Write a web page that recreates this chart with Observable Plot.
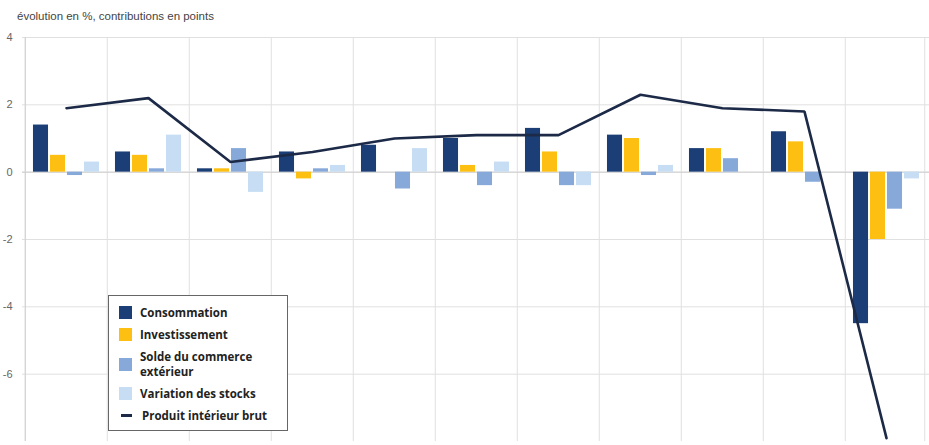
<!DOCTYPE html>
<html>
<head>
<meta charset="utf-8">
<script src="https://cdn.jsdelivr.net/npm/d3@7"></script>
<script src="https://cdn.jsdelivr.net/npm/@observablehq/plot@0.6"></script>
<style>
  html, body { margin: 0; padding: 0; background: #fff; }
  #wrap { position: relative; width: 929px; height: 445px; overflow: hidden; font-family: "Liberation Sans", Arial, sans-serif; }
  #title { position: absolute; left: 17px; top: 10px; font-size: 11.5px; color: #444; }
  #legend { position: absolute; left: 108px; top: 295px; width: 180px; padding: 9px 8px 7px 10px; box-sizing: border-box;
            background: #fff; border: 1px solid #666; font-family: "Open Sans", "Noto Sans", sans-serif; font-weight: 700; font-size: 11.5px; color: #222; }
  .row { display: flex; align-items: center; margin-bottom: 7px; line-height: 15px; }
  .sw { width: 13px; height: 13px; margin-right: 8px; flex: none; }
  .ln { width: 11px; height: 3px; margin: 0 10px 0 2px; flex: none; }
</style>
</head>
<body>
<div id="wrap">
  <div id="chart"></div>
  <div id="title"></div>
  <div id="legend"></div>
</div>
<script>
const years = ["2010","2011","2012","2013","2014","2015","2016","2017","2018","2019","2020"];
const consommation   = [1.4, 0.6, 0.1, 0.6, 0.8, 1.0, 1.3, 1.1, 0.7, 1.2, -4.5];
const investissement = [0.5, 0.5, 0.1, -0.2, 0.0, 0.2, 0.6, 1.0, 0.7, 0.9, -2.0];
const commerce       = [-0.1, 0.1, 0.7, 0.1, -0.5, -0.4, -0.4, -0.1, 0.4, -0.3, -1.1];
const stocks         = [0.3, 1.1, -0.6, 0.2, 0.7, 0.3, -0.4, 0.2, 0.0, 0.0, -0.2];
const pib            = [1.9, 2.2, 0.3, 0.6, 1.0, 1.1, 1.1, 2.3, 1.9, 1.8, -7.9];
const yTicks = [4, 2, 0, -2, -4, -6];
const titleText = "évolution en %, contributions en points";
const seriesNames = ["Consommation", "Investissement", "Solde du commerce extérieur", "Variation des stocks"];
const lineName = "Produit intérieur brut";
const colors = ["#1b3e76", "#fdbf12", "#87a9da", "#c6ddf4"];
const lineColor = "#1c2a47";

const W = 929, H = 445, mL = 22, mR = 0, mT = 37, mB = 4;
const bw = (W - mL - mR) / years.length;
const barW = 15.5, step = 17;

const rows = years.map((y, i) => ({year: y, pib: pib[i], c: consommation[i], inv: investissement[i], com: commerce[i], st: stocks[i]}));
const keys = ["c", "inv", "com", "st"];

const barMarks = keys.map((k, i) => Plot.barY(rows, {
  x: "year", y: k, fill: colors[i],
  insetLeft: (bw - barW) / 2, insetRight: (bw - barW) / 2,
  dx: (i - 1.5) * step
}));

const chart = Plot.plot({
  width: W, height: H,
  marginLeft: mL, marginRight: mR, marginTop: mT, marginBottom: mB,
  style: {fontFamily: "Liberation Sans, Arial, sans-serif", fontSize: "11px", background: "transparent"},
  x: {type: "band", domain: years, padding: 0, axis: null},
  y: {domain: [-8, 4], axis: null},
  marks: [
    Plot.ruleY(yTicks, {stroke: "#e0e0e0", strokeWidth: 1}),
    Plot.ruleX(years, {x: d => d, dx: -bw / 2, stroke: "#e0e0e0", strokeWidth: 1}),
    Plot.ruleX(years.slice(-1), {x: d => d, dx: bw / 2 - 3, stroke: "#e0e0e0", strokeWidth: 1}),
    Plot.ruleY([0], {stroke: "#cfcfcf", strokeWidth: 1}),
    Plot.ruleX(years.slice(0, 1), {x: d => d, dx: -bw / 2, stroke: "#cfcfcf", strokeWidth: 1}),
    ...barMarks,
    Plot.line(rows, {x: "year", y: "pib", stroke: lineColor, strokeWidth: 2.6, strokeLinejoin: "miter"}),
    Plot.axisY({ticks: yTicks, tickSize: 0, tickPadding: 10, tickFormat: d => String(d), fill: "#666", fontSize: 11})
  ]
});
document.getElementById("chart").appendChild(chart);
document.getElementById("title").textContent = titleText;

const lg = document.getElementById("legend");
const labelsHtml = ["Consommation", "Investissement", "Solde du commerce<br>extérieur", "Variation des stocks"];
seriesNames.forEach((n, i) => {
  const r = document.createElement("div");
  r.className = "row";
  r.innerHTML = `<span class="sw" style="background:${colors[i]}"></span><span>${labelsHtml[i]}</span>`;
  lg.appendChild(r);
});
const r = document.createElement("div");
r.className = "row";
r.style.marginBottom = "0";
r.innerHTML = `<span class="ln" style="background:${lineColor}"></span><span>${lineName}</span>`;
lg.appendChild(r);
</script>
</body>
</html>
